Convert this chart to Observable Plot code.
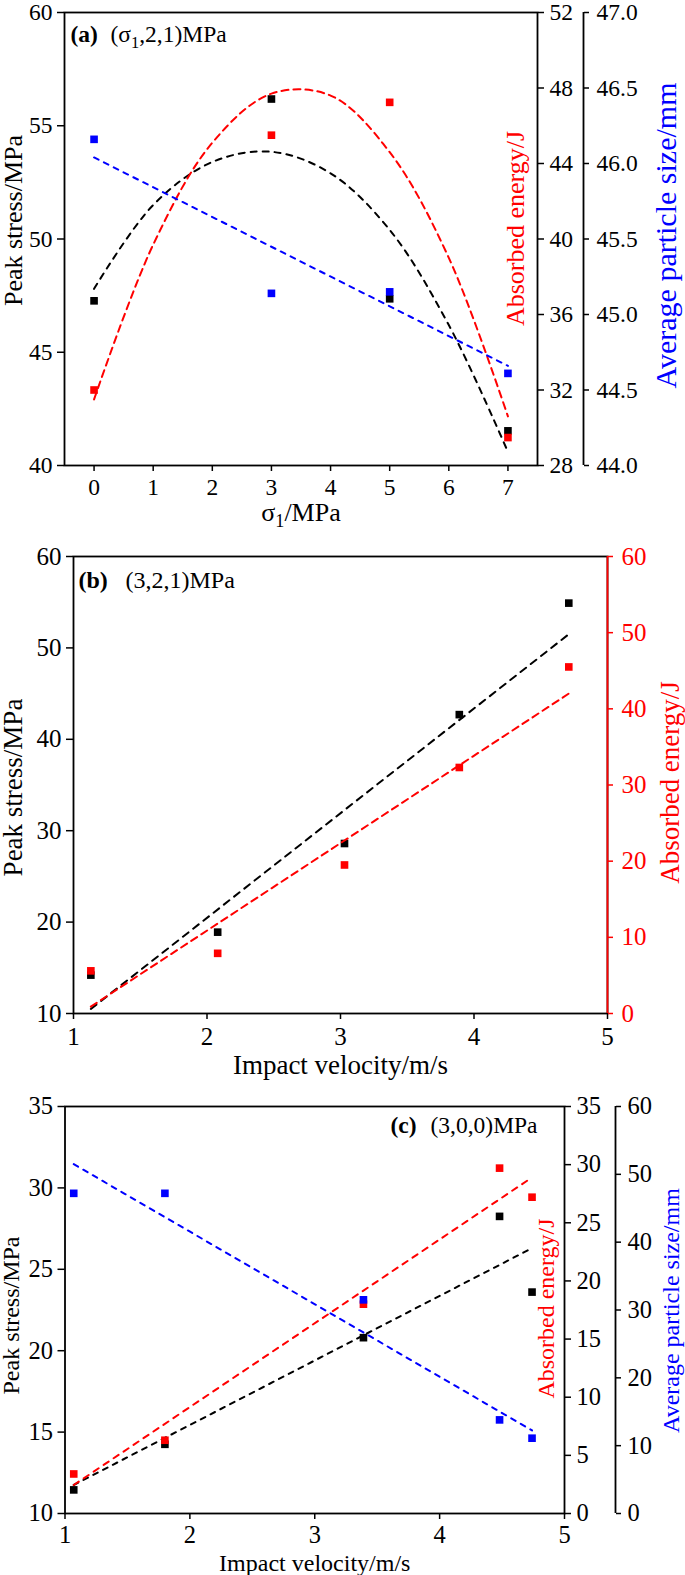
<!DOCTYPE html>
<html><head><meta charset="utf-8">
<script src="https://cdn.jsdelivr.net/npm/d3@7"></script>
<script src="https://cdn.jsdelivr.net/npm/@observablehq/plot@0.6"></script>
<style>
html,body{margin:0;padding:0;background:#fff;}
#root{position:relative;width:685px;height:1575px;font-family:"Liberation Serif",serif;}
.panel{position:absolute;left:0;width:685px;}
.panel svg{position:absolute;left:0;top:0;overflow:visible;}
.panel svg, .panel svg text, .panel svg tspan{font-family:"Liberation Serif","Times New Roman",serif !important;font-variant:normal !important;}
</style></head><body><div id="root"></div>
<script>
// ---------- Panel (a): (σ1,2,1)MPa ----------
const aSigma = [0, 3, 5, 7];
const aPeakStress = [47.27, 56.18, 47.36, 41.53];
const aEnergy = [32.0, 45.5, 47.24, 29.48];
const aParticleSize = [46.16, 45.14, 45.15, 44.61];
// fitted curves
const aCurveSigma = [0, 1, 2, 3, 4, 5, 6, 7];
const aPeakStressCurve = [47.8, 51.5, 53.4, 53.85, 52.9, 50.4, 46.2, 40.6];
const aEnergyCurve = [31.5, 39.7, 45.1, 47.7, 47.6, 44.6, 39.0, 30.6];
const aSizeLineSigma = [0, 7];
const aSizeLine = [46.04, 44.66];
const aXDomain = [-0.5, 7.5];
const aXTicks = [0, 1, 2, 3, 4, 5, 6, 7];
const aStressTicks = [40, 45, 50, 55, 60];
const aEnergyTicks = [28, 32, 36, 40, 44, 48, 52];
const aSizeTicks = [44, 44.5, 45, 45.5, 46, 46.5, 47];

// ---------- Panel (b): (3,2,1)MPa ----------
const bVelocity = [1.13, 2.08, 3.03, 3.89, 4.71];
const bPeakStress = [14.2, 18.9, 28.6, 42.7, 54.9];
const bEnergy = [5.6, 7.9, 19.5, 32.3, 45.5];
const bFitVelocity = [1.13, 4.71];
const bPeakStressFit = [10.5, 51.5];
const bEnergyFit = [0.9, 42.0];
const bXTicks = [1, 2, 3, 4, 5];
const bStressTicks = [10, 20, 30, 40, 50, 60];
const bEnergyTicks = [0, 10, 20, 30, 40, 50, 60];

// ---------- Panel (c): (3,0,0)MPa ----------
const cVelocity = [1.07, 1.8, 3.39, 4.48, 4.74];
const cPeakStress = [11.45, 14.25, 20.8, 28.25, 23.6];
const cEnergy = [3.4, 6.3, 18.0, 29.7, 27.2];
const cParticleSize = [47.2, 47.2, 31.5, 13.8, 11.1];
const cFitVelocity = [1.07, 4.74];
const cPeakStressFit = [11.75, 26.3];
const cEnergyFit = [2.45, 28.9];
const cSizeFit = [51.5, 12.25];
const cXTicks = [1, 2, 3, 4, 5];
const cStressTicks = [10, 15, 20, 25, 30, 35];
const cEnergyTicks = [0, 5, 10, 15, 20, 25, 30, 35];
const cSizeTicks = [0, 10, 20, 30, 40, 50, 60];

// ---------- helpers ----------
const FONT = "Liberation Serif";
const W = 685;
const RED = "#ff0000", BLUE = "#0000ff", BLACK = "#000000";
const root = document.getElementById("root");
const zip = (xs, ys) => xs.map((x, i) => ({x, y: ys[i]}));
const first = a => a[0], last = a => a[a.length - 1];
const intFmt = d => String(d);

function fixSub(svg) {
  const ns = "http://www.w3.org/2000/svg";
  svg.querySelectorAll("text, tspan").forEach(t => {
    if (t.childElementCount === 0 && t.textContent.includes("σ1")) {
      const [pre, post] = t.textContent.split("σ1");
      t.textContent = "";
      const a = document.createElementNS(ns, "tspan"); a.textContent = pre + "σ";
      const b = document.createElementNS(ns, "tspan"); b.textContent = "1";
      b.setAttribute("dy", "6"); b.setAttribute("font-size", "70%");
      const c = document.createElementNS(ns, "tspan"); c.textContent = post; c.setAttribute("dy", "-6");
      t.append(a, b, c);
    }
  });
}
function addPanel(top, height) {
  const d = document.createElement("div");
  d.className = "panel"; d.style.top = top + "px"; d.style.height = height + "px";
  root.appendChild(d); return d;
}
function layer(panel, g, o) {
  const svg = Plot.plot({
    width: W, height: g.height,
    marginTop: g.mt, marginBottom: g.mb, marginLeft: g.ml, marginRight: o.mr ?? g.mr,
    x: o.hasX ? {domain: o.xDomain} : {domain: o.xDomain, axis: null},
    y: o.hasY ? {domain: o.yDomain} : {domain: o.yDomain, axis: null},
    style: {fontFamily: FONT, fontSize: g.fs + "px", color: o.color || BLACK, background: "transparent", overflow: "visible"},
    marks: o.marks
  });
  fixSub(svg);
  panel.appendChild(svg);
}
const label = (s, opts) => Plot.text([s], {text: d => d, lineAnchor: "middle", ...opts});
// vertical titles are placed relative to the frame centre
const vtitle = (s, opts) => label(s, {frameAnchor: "middle", rotate: -90, textAnchor: "middle", ...opts});
const series = (pts, curvePts, color, dash, curve) => [
  Plot.line(curvePts, {x: "x", y: "y", stroke: color, strokeWidth: 2, strokeDasharray: dash, curve: curve || "linear"}),
  Plot.dot(pts, {x: "x", y: "y", symbol: "square", r: 4.3, fill: color})
];

// ---------- Panel (a) ----------
{
  const g = {height: 530, mt: 12, mb: 65, ml: 64, mr: 148, fs: 23.5};
  const p = addPanel(0, g.height);
  layer(p, g, {hasX: true, hasY: true, xDomain: aXDomain, yDomain: [first(aStressTicks), last(aStressTicks)], marks: [
    Plot.frame({strokeWidth: 1.8}),
    Plot.axisX({ticks: aXTicks, tickFormat: intFmt, tickSize: 6, tickPadding: 7, label: null, strokeWidth: 1.5}),
    Plot.axisY({ticks: aStressTicks, tickFormat: intFmt, tickSize: 7, tickPadding: 5, label: null, strokeWidth: 1.5}),
    ...series(zip(aSigma, aPeakStress), zip(aCurveSigma, aPeakStressCurve), BLACK, "6,6", "catmull-rom"),
    vtitle("Peak stress/MPa", {dx: -287, dy: -18.5, fontSize: 26}),
    label("σ1/MPa", {frameAnchor: "bottom", dy: 47, fontSize: 26}),
    label("(a)", {frameAnchor: "top-left", textAnchor: "start", dx: 6, dy: 22, fontWeight: "bold"}),
    label("(σ1,2,1)MPa", {frameAnchor: "top-left", textAnchor: "start", dx: 46, dy: 22})
  ]});
  layer(p, g, {hasY: true, xDomain: aXDomain, yDomain: [first(aEnergyTicks), last(aEnergyTicks)], marks: [
    Plot.axisY({anchor: "right", ticks: aEnergyTicks, tickFormat: intFmt, tickSize: 6, tickPadding: 6, label: null, strokeWidth: 1.5}),
    ...series(zip(aSigma, aEnergy), zip(aCurveSigma, aEnergyCurve), RED, "7,5", "catmull-rom"),
    vtitle("Absorbed energy/J", {dx: 214.5, dy: -10.5, fontSize: 26, fill: RED})
  ]});
  layer(p, g, {hasY: true, mr: 102, xDomain: [0, 1], yDomain: [first(aSizeTicks), last(aSizeTicks)], marks: [
    Plot.ruleX([1], {strokeWidth: 1.8}),
    Plot.axisY({anchor: "right", ticks: aSizeTicks, tickFormat: ".1f", tickSize: 5, tickPadding: 8, label: null, strokeWidth: 1.5})
  ]});
  layer(p, g, {xDomain: aXDomain, yDomain: [first(aSizeTicks), last(aSizeTicks)], marks: [
    ...series(zip(aSigma, aParticleSize), zip(aSizeLineSigma, aSizeLine), BLUE, "5,6"),
    vtitle("Average particle size/mm", {dx: 365.5, dy: -3.5, fontSize: 30, fill: BLUE})
  ]});
}

// ---------- Panel (b) ----------
{
  const g = {height: 545, mt: 26, mb: 62, ml: 73, mr: 78, fs: 25};
  const p = addPanel(530, g.height);
  const xd = [first(bXTicks), last(bXTicks)];
  layer(p, g, {hasX: true, hasY: true, xDomain: xd, yDomain: [first(bStressTicks), last(bStressTicks)], marks: [
    Plot.frame({strokeWidth: 1.8}),
    Plot.axisX({ticks: bXTicks, tickFormat: intFmt, tickSize: 6, tickPadding: 8, label: null, strokeWidth: 1.5}),
    Plot.axisY({ticks: bStressTicks, tickFormat: intFmt, tickSize: 7, tickPadding: 5, label: null, strokeWidth: 1.5}),
    ...series(zip(bVelocity, bPeakStress), zip(bFitVelocity, bPeakStressFit), BLACK, "7,6"),
    vtitle("Peak stress/MPa", {dx: -327, dy: 2.5, fontSize: 27}),
    label("Impact velocity/m/s", {frameAnchor: "bottom", dy: 52, fontSize: 27}),
    label("(b)", {frameAnchor: "top-left", textAnchor: "start", dx: 5, dy: 24, fontSize: 24, fontWeight: "bold"}),
    label("(3,2,1)MPa", {frameAnchor: "top-left", textAnchor: "start", dx: 52, dy: 24, fontSize: 24})
  ]});
  layer(p, g, {hasY: true, color: RED, xDomain: xd, yDomain: [first(bEnergyTicks), last(bEnergyTicks)], marks: [
    Plot.ruleX([xd[1]], {stroke: RED, strokeWidth: 1.8}),
    Plot.axisY({anchor: "right", ticks: bEnergyTicks, tickFormat: intFmt, tickSize: 5, tickPadding: 9, label: null, strokeWidth: 1.5}),
    ...series(zip(bVelocity, bEnergy), zip(bFitVelocity, bEnergyFit), RED, "7,5"),
    vtitle("Absorbed energy/J", {dx: 330, dy: -2.5, fontSize: 27, fill: RED})
  ]});
}

// ---------- Panel (c) ----------
{
  const g = {height: 500, mt: 31, mb: 62, ml: 64.5, mr: 121, fs: 24.5};
  const p = addPanel(1075, g.height);
  const xd = [first(cXTicks), last(cXTicks)];
  layer(p, g, {hasX: true, hasY: true, xDomain: xd, yDomain: [first(cStressTicks), last(cStressTicks)], marks: [
    Plot.frame({strokeWidth: 1.8}),
    Plot.axisX({ticks: cXTicks, tickFormat: intFmt, tickSize: 6, tickPadding: 6, label: null, strokeWidth: 1.5}),
    Plot.axisY({ticks: cStressTicks, tickFormat: intFmt, tickSize: 7, tickPadding: 5, label: null, strokeWidth: 1.5}),
    ...series(zip(cVelocity, cPeakStress), zip(cFitVelocity, cPeakStressFit), BLACK, "5,6"),
    vtitle("Peak stress/MPa", {dx: -303, dy: 5.5, fontSize: 24}),
    label("Impact velocity/m/s", {frameAnchor: "bottom", dy: 50, fontSize: 24}),
    label("(c)", {frameAnchor: "top-left", textAnchor: "start", dx: 325.5, dy: 19, fontSize: 23.5, fontWeight: "bold"}),
    label("(3,0,0)MPa", {frameAnchor: "top-left", textAnchor: "start", dx: 365.5, dy: 19, fontSize: 23.5})
  ]});
  layer(p, g, {hasY: true, xDomain: xd, yDomain: [first(cEnergyTicks), last(cEnergyTicks)], marks: [
    Plot.axisY({anchor: "right", ticks: cEnergyTicks, tickFormat: intFmt, tickSize: 6, tickPadding: 6, label: null, strokeWidth: 1.5}),
    ...series(zip(cVelocity, cEnergy), zip(cFitVelocity, cEnergyFit), RED, "6,6"),
    vtitle("Absorbed energy/J", {dx: 231.75, dy: -1.5, fontSize: 24, fill: RED})
  ]});
  layer(p, g, {hasY: true, mr: 70, xDomain: [0, 1], yDomain: [first(cSizeTicks), last(cSizeTicks)], marks: [
    Plot.ruleX([1], {strokeWidth: 1.8}),
    Plot.axisY({anchor: "right", ticks: cSizeTicks, tickFormat: intFmt, tickSize: 5, tickPadding: 7, label: null, strokeWidth: 1.5})
  ]});
  layer(p, g, {xDomain: xd, yDomain: [first(cSizeTicks), last(cSizeTicks)], marks: [
    ...series(zip(cVelocity, cParticleSize), zip(cFitVelocity, cSizeFit), BLUE, "5,6"),
    vtitle("Average particle size/mm", {dx: 356.75, dy: 0.5, fontSize: 24, fill: BLUE})
  ]});
}
</script></body></html>
